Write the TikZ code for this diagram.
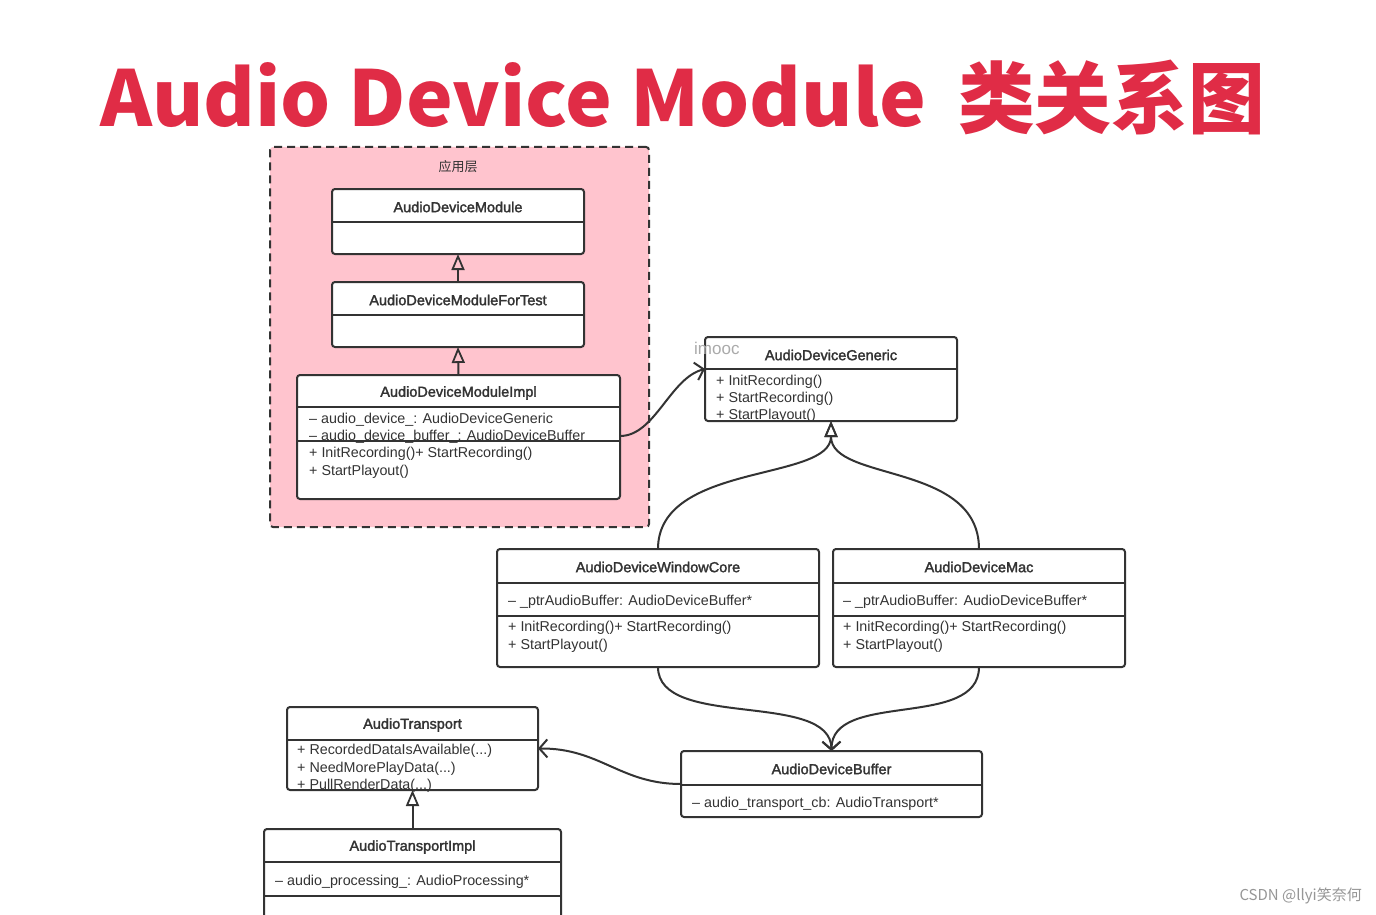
\documentclass[tikz,border=0pt]{standalone}
\usepackage{fontspec}
\setmainfont{Liberation Sans}
\newfontfamily\cjk{Noto Sans CJK SC}
\newfontfamily\clsfont{Liberation Sans}[FakeBold=2]
\usetikzlibrary{arrows.meta}
\definecolor{titlered}{RGB}{224,44,70}
\definecolor{ink}{RGB}{51,51,51}
\definecolor{layerpink}{RGB}{255,196,206}
\definecolor{wmgray}{RGB}{150,150,150}
\definecolor{imoocgray}{RGB}{170,170,170}
\begin{document}
\begin{tikzpicture}[x=1pt,y=-1pt,
  cls/.style={draw=ink, line width=2pt, fill=white, rounded corners=3pt, inner sep=0pt, outer sep=0pt},
  clsname/.style={font=\clsfont\fontsize{14.5}{16}\selectfont, text=ink, inner sep=0pt},
  member/.style={font=\fontsize{14.3}{16}\selectfont, text=ink, anchor=west, inner sep=0pt, yshift=-1.5pt},
  divider/.style={draw=ink, line width=2pt},
  inherit/.style={draw=ink, line width=2pt, -{Triangle[open, length=16pt, width=13pt, line width=1.8pt]}},
  assoc/.style={draw=ink, line width=2pt, -{Straight Barb[length=8pt, width=18pt, line width=2pt]}},
]
\clip (0,0) rectangle (1376,915);
\fill[white] (0,0) rectangle (1376,915);

% title
\node[inner sep=0pt, outer sep=0pt, anchor=base west, text=titlered] (title) at (100,126)
  {\resizebox{826pt}{64pt}{\cjk\bfseries Audio Device Module}};
\node[inner sep=0pt, outer sep=0pt, anchor=north west, text=titlered] (titlecn) at (958,60)
  {\resizebox*{307pt}{75pt}{\cjk\bfseries 类关系图}};

% application layer
\node[draw=ink, line width=2pt, dash pattern=on 8pt off 5pt, fill=layerpink, rounded corners=3pt,
  minimum width=379pt, minimum height=380pt, inner sep=0pt] (layer) at (459.5,337) {};
\node[font=\cjk\fontsize{13}{15}\selectfont, text=ink, inner sep=0pt] (layerlbl) at (458,167) {应用层};

% AudioDeviceModule
\node[cls, minimum width=252pt, minimum height=65pt] (adm) at (458,221.5) {};
\node[clsname] (admT) at (458,207) {AudioDeviceModule};
\draw[divider] (adm.west |- 0,222) -- (adm.east |- 0,222);

% AudioDeviceModuleForTest
\node[cls, minimum width=252pt, minimum height=65pt] (admt) at (458,314.5) {};
\node[clsname] (admtT) at (458,300) {AudioDeviceModuleForTest};
\draw[divider] (admt.west |- 0,315) -- (admt.east |- 0,315);

% AudioDeviceModuleImpl
\node[cls, minimum width=323pt, minimum height=124pt] (admi) at (458.5,437) {};
\node[clsname] (admiT) at (458.5,393) {AudioDeviceModuleImpl};
\draw[divider] (admi.west |- 0,407) -- (admi.east |- 0,407);
\node[member] (admiA1) at (309,418) {– audio\_device\_: AudioDeviceGeneric};
\node[member] (admiA2) at (309,435) {– audio\_device\_buffer\_: AudioDeviceBuffer};
\draw[divider] (admi.west |- 0,441) -- (admi.east |- 0,441);
\node[member] (admiM1) at (309,452) {+ InitRecording()+ StartRecording()};
\node[member] (admiM2) at (309,470) {+ StartPlayout()};

% AudioDeviceGeneric
\node[cls, minimum width=252pt, minimum height=84pt] (adg) at (831,379) {};
\node[clsname] (adgT) at (831,355) {AudioDeviceGeneric};
\draw[divider] (adg.west |- 0,369) -- (adg.east |- 0,369);
\node[member] (adgM1) at (716,380) {+ InitRecording()};
\node[member] (adgM2) at (716,397) {+ StartRecording()};
\node[member] (adgM3) at (716,414) {+ StartPlayout()};
\node[font=\fontsize{17}{19}\selectfont, text=imoocgray, anchor=west, inner sep=0pt] (imooc) at (694,348) {imooc};

% AudioDeviceWindowCore
\node[cls, minimum width=322pt, minimum height=118pt] (adwc) at (658,608) {};
\node[clsname] (adwcT) at (658,567) {AudioDeviceWindowCore};
\draw[divider] (adwc.west |- 0,583) -- (adwc.east |- 0,583);
\node[member] (adwcA1) at (508,600) {– \_ptrAudioBuffer: AudioDeviceBuffer*};
\draw[divider] (adwc.west |- 0,616) -- (adwc.east |- 0,616);
\node[member] (adwcM1) at (508,626) {+ InitRecording()+ StartRecording()};
\node[member] (adwcM2) at (508,644) {+ StartPlayout()};

% AudioDeviceMac
\node[cls, minimum width=292pt, minimum height=118pt] (mac) at (979,608) {};
\node[clsname] (macT) at (979,567) {AudioDeviceMac};
\draw[divider] (mac.west |- 0,583) -- (mac.east |- 0,583);
\node[member] (macA1) at (843,600) {– \_ptrAudioBuffer: AudioDeviceBuffer*};
\draw[divider] (mac.west |- 0,616) -- (mac.east |- 0,616);
\node[member] (macM1) at (843,626) {+ InitRecording()+ StartRecording()};
\node[member] (macM2) at (843,644) {+ StartPlayout()};

% AudioDeviceBuffer
\node[cls, minimum width=301pt, minimum height=66pt] (adb) at (831.5,784) {};
\node[clsname] (adbT) at (831.5,769) {AudioDeviceBuffer};
\draw[divider] (adb.west |- 0,785) -- (adb.east |- 0,785);
\node[member] (adbA1) at (692,802) {– audio\_transport\_cb: AudioTransport*};

% AudioTransport
\node[cls, minimum width=251pt, minimum height=83pt] (at) at (412.5,748.5) {};
\node[clsname] (atT) at (412.5,725) {AudioTransport};
\draw[divider] (at.west |- 0,740) -- (at.east |- 0,740);
\node[member] (atM1) at (297,749) {+ RecordedDataIsAvailable(...)};
\node[member] (atM2) at (297,767) {+ NeedMorePlayData(...)};
\node[member] (atM3) at (297,784) {+ PullRenderData(...)};

% AudioTransportImpl
\node[cls, minimum width=297pt, minimum height=96pt] (ati) at (412.5,877) {};
\node[clsname] (atiT) at (412.5,847) {AudioTransportImpl};
\draw[divider] (ati.west |- 0,862) -- (ati.east |- 0,862);
\node[member] (atiA1) at (275,880) {– audio\_processing\_: AudioProcessing*};
\draw[divider] (ati.west |- 0,896) -- (ati.east |- 0,896);

% connectors
\draw[inherit] (admt.north) -- (adm.south);
\draw[inherit] (admi.north) -- (admt.south);
\draw[assoc] (admi.east |- 0,436) .. controls (655,436) and (670,378) .. ([yshift=10pt]adg.west);
\draw[inherit] (adwc.north) .. controls (658,462) and (831,482) .. (adg.south);
\draw[inherit] (mac.north) .. controls (979,462) and (831,482) .. (adg.south);
\draw[assoc] (adwc.south) .. controls (658,730) and (831,690) .. (adb.north);
\draw[assoc] (mac.south) .. controls (979,730) and (831,690) .. (adb.north);
\draw[assoc] (adb.west) .. controls (620,784) and (600,748) .. (at.east);
\draw[inherit] (ati.north) -- (at.south);

% watermark
\node[font=\cjk\fontsize{15}{17}\selectfont, text=wmgray, anchor=east, inner sep=0pt] (csdn) at (1362,896) {CSDN @llyi笑奈何};
\end{tikzpicture}
\end{document}
